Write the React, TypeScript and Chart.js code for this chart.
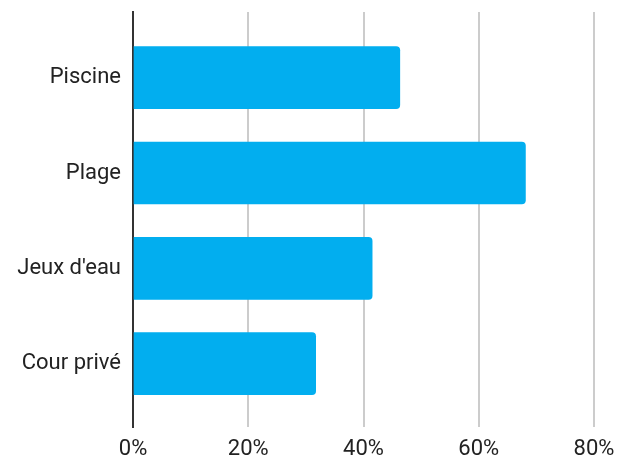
import React, { useEffect, useRef } from "react";
import { Chart, registerables } from "chart.js";

Chart.register(...registerables);

const categories: string[] = ["Piscine", "Plage", "Jeux d'eau", "Cour privé"];
const values: number[] = [46.3, 68.1, 41.5, 31.7];
const xTicks: number[] = [0, 20, 40, 60, 80];

const BAR_COLOR = "#02AEEF";
const TEXT_COLOR = "#222222";
const FONT = { family: "Roboto", size: 22 };

export default function App() {
  const ref = useRef<HTMLCanvasElement | null>(null);

  useEffect(() => {
    if (!ref.current) return;
    const chart = new Chart(ref.current, {
      type: "bar",
      data: {
        datasets: [
          {
            data: values.map((v, i) => ({ x: v, y: i })),
            backgroundColor: BAR_COLOR,
            borderWidth: 0,
            borderRadius: 4,
            barThickness: 62,
          },
        ],
      },
      options: {
        indexAxis: "y",
        animation: false,
        responsive: false,
        maintainAspectRatio: false,
        layout: { padding: { top: 12, right: 26, left: 0, bottom: 0 } },
        plugins: { legend: { display: false }, tooltip: { enabled: false } },
        scales: {
          x: {
            type: "linear",
            min: xTicks[0],
            max: xTicks[xTicks.length - 1],
            offset: false,
            afterBuildTicks: (scale: any) => {
              scale.ticks = xTicks.map((v) => ({ value: v }));
            },
            afterFit: (scale: any) => {
              scale.height = 35;
              scale.paddingLeft = 0;
              scale.paddingRight = 0;
            },
            ticks: {
              color: TEXT_COLOR,
              font: FONT,
              padding: 9,
              maxRotation: 0,
              callback: (v: any) => `${v}%`,
            },
            grid: {
              drawTicks: false,
              lineWidth: 2,
              color: (ctx: any) => (ctx.tick && ctx.tick.value === 0 ? "rgba(0,0,0,0)" : "#CCCCCC"),
            },
            border: { display: false },
          },
          y: {
            type: "linear",
            reverse: true,
            offset: false,
            min: -0.689,
            max: 3.664,
            z: 1,
            afterBuildTicks: (scale: any) => {
              scale.ticks = categories.map((_, i) => ({ value: i }));
            },
            afterFit: (scale: any) => {
              scale.width = 133;
              scale.paddingTop = 0;
              scale.paddingBottom = 0;
            },
            ticks: {
              color: TEXT_COLOR,
              font: FONT,
              padding: 12,
              callback: (v: any) => categories[Math.round(Number(v))] ?? "",
            },
            grid: { display: false, drawTicks: false, offset: false },
            border: { display: true, color: "#333333", width: 2 },
          },
        },
      },
    });
    return () => chart.destroy();
  }, []);

  return (
    <div style={{ position: "fixed", left: 0, top: 0, width: 620, height: 462, background: "#fff" }}>
      <canvas ref={ref} width={620} height={462} style={{ width: 620, height: 462 }} />
    </div>
  );
}
